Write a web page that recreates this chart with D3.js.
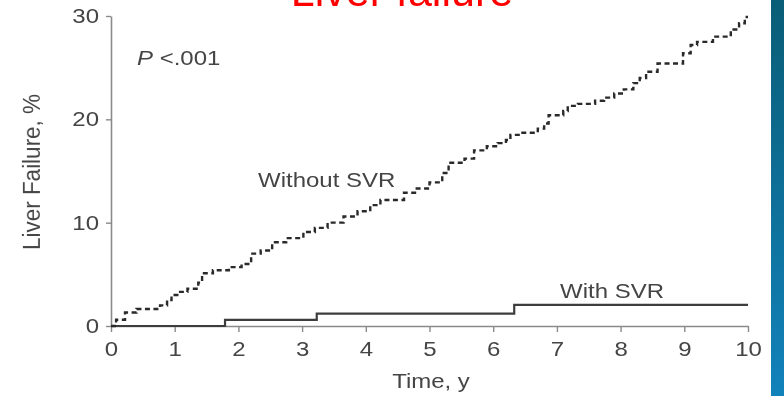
<!DOCTYPE html>
<html>
<head>
<meta charset="utf-8">
<script src="https://cdn.jsdelivr.net/npm/d3@7"></script>
<style>
  html, body { margin: 0; padding: 0; background: #fff; }
  svg { display: block; }
  text { font-family: "Liberation Sans", Arial, Helvetica, sans-serif; }
</style>
</head>
<body>
<svg id="chart" width="784" height="396"></svg>
<script>
// Cumulative incidence of liver failure (%), step curves by SVR status
const withoutSvrTime = [0, 0.08, 0.22, 0.4, 0.77, 0.88, 0.95, 1.04, 1.2, 1.37, 1.43, 1.6, 1.85, 2.05, 2.2, 2.35, 2.53, 2.75, 3.02, 3.2, 3.4, 3.65, 3.87, 4.07, 4.23, 4.6, 4.8, 5.0, 5.2, 5.3, 5.55, 5.7, 5.9, 6.07, 6.2, 6.27, 6.43, 6.7, 6.8, 6.87, 7.1, 7.17, 7.33, 7.6, 7.74, 7.9, 8.05, 8.2, 8.3, 8.4, 8.58, 8.98, 9.1, 9.2, 9.45, 9.73, 9.86, 9.95, 10];
const withoutSvrPct  = [0, 0.6, 1.3, 1.65, 2.0, 2.5, 3.0, 3.3, 3.6, 4.2, 5.1, 5.4, 5.7, 6.0, 7.0, 7.3, 8.1, 8.5, 9.1, 9.5, 10.0, 10.6, 11.1, 11.7, 12.2, 12.9, 13.3, 13.9, 14.8, 15.8, 16.2, 17.0, 17.4, 17.7, 18.0, 18.5, 18.7, 19.1, 19.6, 20.4, 20.8, 21.3, 21.5, 21.8, 22.1, 22.5, 22.9, 23.5, 24.0, 24.6, 25.4, 26.4, 27.2, 27.5, 28.0, 28.7, 29.3, 29.9, 29.9];

const withSvrTime = [0, 1.79, 3.23, 6.33, 10];
const withSvrPct  = [0, 0.6, 1.2, 2.05, 2.05];

const xTickValues = [0, 1, 2, 3, 4, 5, 6, 7, 8, 9, 10];
const yTickValues = [0, 10, 20, 30];

const svg = d3.select("#chart");
const W = 784, H = 396;
const textColor = "#444";
const sx = 1.2; // horizontal stretch of the figure lettering

// Right-hand slide band
const defs = svg.append("defs");
const grad = defs.append("linearGradient").attr("id", "band")
  .attr("x1", 0).attr("y1", 0).attr("x2", 0).attr("y2", 1);
grad.append("stop").attr("offset", "0%").attr("stop-color", "#0a5d76");
grad.append("stop").attr("offset", "100%").attr("stop-color", "#1282bb");
defs.append("filter").attr("id", "soft")
  .append("feGaussianBlur").attr("stdDeviation", 0.6);

svg.append("rect").attr("width", W).attr("height", H).attr("fill", "#fff");
svg.append("rect").attr("x", 771).attr("y", 0).attr("width", 13).attr("height", H)
  .attr("fill", "url(#band)");

const g = svg.append("g").attr("filter", "url(#soft)");

// Slide title, running off the top edge
g.append("text")
  .attr("x", 402).attr("y", 6)
  .attr("text-anchor", "middle")
  .attr("font-size", 43)
  .attr("fill", "#ff0000")
  .text("Liver failure");

const x = d3.scaleLinear().domain([0, 10]).range([111, 748]);
const y = d3.scaleLinear().domain([0, 30]).range([326, 16]);

// Axes
const yAxis = g.append("g")
  .attr("transform", `translate(${x(0)},0)`)
  .call(d3.axisLeft(y).tickValues(yTickValues).tickSize(5).tickPadding(5).tickSizeOuter(0));
const xAxis = g.append("g")
  .attr("transform", `translate(0,${y(0)})`)
  .call(d3.axisBottom(x).tickValues(xTickValues).tickSize(6).tickPadding(10).tickSizeOuter(0));

[yAxis, xAxis].forEach(ax => {
  ax.select(".domain").attr("stroke", "#8a8a8a").attr("stroke-width", 1.6);
  ax.selectAll(".tick line").attr("stroke", "#8a8a8a").attr("stroke-width", 1.4);
  ax.selectAll(".tick text")
    .attr("font-size", 20)
    .attr("font-family", "Liberation Sans, Arial, sans-serif")
    .attr("fill", textColor)
    .attr("transform", `scale(${sx},1)`);
});

// Helper for stretched labels
function label(txt, px, py, size, anchor, italicFirst) {
  const t = g.append("text")
    .attr("transform", `translate(${px},${py}) scale(${sx},1)`)
    .attr("font-size", size)
    .attr("text-anchor", anchor)
    .attr("fill", textColor);
  if (italicFirst) {
    t.append("tspan").attr("font-style", "italic").text(italicFirst);
  }
  t.append("tspan").text(txt);
  return t;
}

label("Time, y", 431, 388, 20, "middle");
label(" <.001", 137, 65, 20, "start", "P");
label("Without SVR", 258, 187, 20, "start");
label("With SVR", 560, 298, 20, "start");

g.append("text")
  .attr("transform", `translate(40,172) rotate(-90) scale(1,1.1)`)
  .attr("font-size", 22.5)
  .attr("text-anchor", "middle")
  .attr("fill", textColor)
  .text("Liver Failure, %");

// Step curves
const line = d3.line()
  .x(d => x(d[0]))
  .y(d => y(d[1]))
  .curve(d3.curveStepAfter);

g.append("path")
  .datum(withSvrTime.map((t, i) => [t, withSvrPct[i]]))
  .attr("d", line)
  .attr("fill", "none")
  .attr("stroke", "#3c3c3c")
  .attr("stroke-width", 2.2);

g.append("path")
  .datum(withoutSvrTime.map((t, i) => [t, withoutSvrPct[i]]))
  .attr("d", line)
  .attr("fill", "none")
  .attr("stroke", "#2a2a2a")
  .attr("stroke-width", 2.4)
  .attr("stroke-dasharray", "5,3.5");
</script>
</body>
</html>
